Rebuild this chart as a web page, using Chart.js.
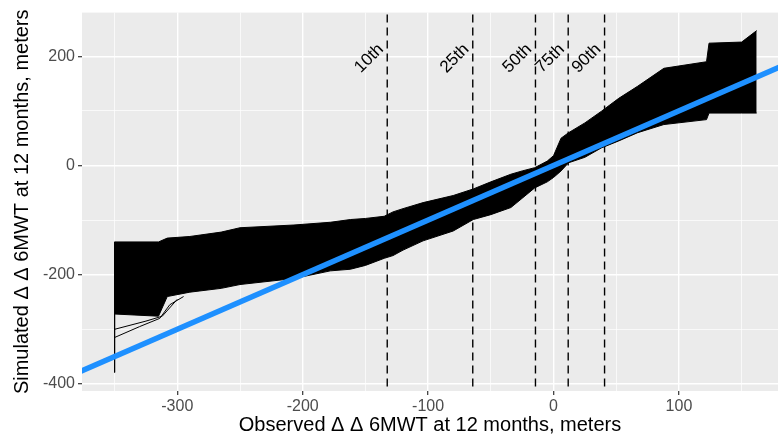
<!DOCTYPE html>
<html>
<head>
<meta charset="utf-8">
<script src="https://cdn.jsdelivr.net/npm/chart.js@4.4.1/dist/chart.umd.min.js"></script>
<style>
  html, body { margin: 0; padding: 0; background: #fff; }
  #wrap { width: 778px; height: 438px; }
</style>
</head>
<body>
<div id="wrap"><canvas id="myChart" width="778" height="438"></canvas></div>
<script>
// band of simulated curves: outer edges
const bandX = [-350, -315, -308, -290, -265, -250, -207, -178, -162, -150, -135, -128, -120, -104, -80, -64, -50, -34, -25, -15, -5, 0, 6, 12, 25, 38, 52, 67, 88, 122, 124, 150, 162]
const bandTop = [-140, -140, -133, -130, -122, -114, -109, -104, -99, -97, -93, -85, -79, -68, -55, -43, -30, -16, -10, -4, 8, 18, 50, 60, 78, 99, 123, 145, 178, 190, 224, 226, 247]
const bandBottom = [-272, -276, -240, -232, -225, -218, -207, -193, -190, -183, -170, -165, -155, -138, -120, -99, -90, -77, -60, -41, -30, -22, -10, 5, 15, 32, 45, 60, 75, 84, 96, 96, 96]

// stray curves at the left end
const strayAX = [-350, -330, -314, -306, -295]
const strayAY = [-315, -295, -280, -255, -240]
const strayBX = [-350, -325, -312, -300]
const strayBY = [-300, -285, -276, -245]
const edgeX = [-350, -350]
const edgeY = [-140, -379]

// identity line
const refX = [-400, 200]
const refY = [-400, 200]

// percentiles of observed values
const pctLabels = ['10th', '25th', '50th', '75th', '90th']
const pctValues = [-132.6, -64.4, -14.4, 11.7, 40.7]
const pctLabelY = 196

const xTicks = [-350, -300, -250, -200, -150, -100, -50, 0, 50, 100, 150]
const yTicks = [-400, -300, -200, -100, 0, 100, 200]

const pts = (xs, ys) => xs.map((x, i) => ({ x: x, y: ys[i] }))

const panelBg = {
    id: 'panelBg',
    beforeDraw(chart) {
        const { ctx, chartArea: a } = chart
        ctx.save()
        ctx.fillStyle = '#EBEBEB'
        ctx.fillRect(a.left, a.top, a.right - a.left, a.bottom - a.top)
        ctx.restore()
    }
}

const pctText = {
    id: 'pctText',
    afterDatasetsDraw(chart) {
        const { ctx, scales } = chart
        ctx.save()
        ctx.fillStyle = '#000'
        ctx.font = '17px "Liberation Sans", Arial, sans-serif'
        ctx.textAlign = 'center'
        ctx.textBaseline = 'middle'
        pctValues.forEach((v, i) => {
            const px = scales.x.getPixelForValue(v) - 18
            const py = scales.y.getPixelForValue(pctLabelY)
            ctx.save()
            ctx.translate(px, py)
            ctx.rotate(-Math.PI / 4)
            ctx.fillText(pctLabels[i], 0, 0)
            ctx.restore()
        })
        ctx.restore()
    }
}

const datasets = [
    {
        data: pts(bandX, bandTop),
        borderColor: '#000',
        borderWidth: 1,
        backgroundColor: '#000',
        fill: 1,
        order: 3
    },
    {
        data: pts(bandX, bandBottom),
        borderColor: '#000',
        borderWidth: 1,
        fill: false,
        order: 3
    },
    { data: pts(strayAX, strayAY), borderColor: '#000', borderWidth: 1, fill: false, order: 2 },
    { data: pts(strayBX, strayBY), borderColor: '#000', borderWidth: 1, fill: false, order: 2 },
    { data: pts(edgeX, edgeY), borderColor: '#000', borderWidth: 1, fill: false, order: 2 }
]

pctValues.forEach(v => {
    datasets.push({
        data: [{ x: v, y: -500 }, { x: v, y: 400 }],
        borderColor: '#000',
        borderWidth: 1.4,
        borderDash: [8, 5],
        fill: false,
        order: 1
    })
})

datasets.push({
    data: pts(refX, refY),
    borderColor: '#1E90FF',
    borderWidth: 5.5,
    fill: false,
    order: 0
})

const tickFont = { family: '"Liberation Sans", Arial, sans-serif', size: 16 }
const titleFont = { family: '"Liberation Sans", Arial, sans-serif', size: 20 }

let myChart = document.getElementById('myChart').getContext('2d')
let qqChart = new Chart(myChart, {
    type: 'line',
    data: { datasets: datasets },
    plugins: [panelBg, pctText],
    options: {
        responsive: false,
        animation: false,
        layout: { padding: { top: 11, right: 0, left: 0, bottom: 0 } },
        elements: {
            point: { radius: 0 },
            line: { tension: 0 }
        },
        plugins: {
            legend: { display: false },
            tooltip: { enabled: false }
        },
        scales: {
            x: {
                type: 'linear',
                min: -376,
                max: 179,
                afterBuildTicks: s => { s.ticks = xTicks.map(v => ({ value: v })) },
                afterFit: s => { s.height = 47 },
                border: { display: false },
                grid: {
                    color: '#fff',
                    lineWidth: c => (c.tick && c.tick.value % 100 === 0) ? 1.4 : 0.7,
                    tickColor: c => (c.tick && c.tick.value % 100 === 0) ? '#333' : 'rgba(0,0,0,0)',
                    tickLength: 4,
                    tickWidth: 1.2
                },
                ticks: {
                    color: '#4D4D4D',
                    font: tickFont,
                    padding: 2,
                    maxRotation: 0,
                    autoSkip: false,
                    callback: v => v % 100 === 0 ? String(v) : ''
                },
                title: {
                    display: true,
                    text: 'Observed Δ Δ 6MWT at 12 months, meters',
                    color: '#000',
                    font: titleFont,
                    padding: { top: 0, bottom: 1 }
                }
            },
            y: {
                type: 'linear',
                min: -413,
                max: 280,
                afterBuildTicks: s => { s.ticks = yTicks.map(v => ({ value: v })) },
                afterFit: s => { s.width = 82 },
                border: { display: false },
                grid: {
                    color: '#fff',
                    lineWidth: c => (c.tick && c.tick.value % 200 === 0) ? 1.4 : 0.7,
                    tickColor: c => (c.tick && c.tick.value % 200 === 0) ? '#333' : 'rgba(0,0,0,0)',
                    tickLength: 4,
                    tickWidth: 1.2
                },
                ticks: {
                    color: '#4D4D4D',
                    font: tickFont,
                    padding: 3,
                    autoSkip: false,
                    callback: v => v % 200 === 0 ? String(v) : ''
                },
                title: {
                    display: true,
                    text: 'Simulated Δ Δ 6MWT at 12 months, meters',
                    color: '#000',
                    font: titleFont,
                    padding: { top: 10, bottom: 0 }
                }
            }
        }
    }
})
</script>
</body>
</html>
